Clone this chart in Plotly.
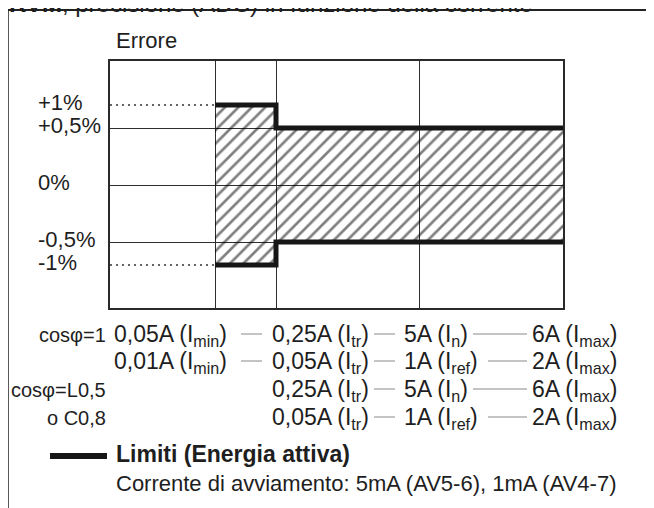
import plotly.graph_objects as go

# ---------------- data ----------------
correnti = ["I_min", "I_tr", "I_n", "I_max"]           # current thresholds along x
limite_superiore = [1.0, 0.5, 0.5]                      # upper error limit (%) per interval
limite_inferiore = [-1.0, -0.5, -0.5]                   # lower error limit (%) per interval
griglia_errore = [0.5, 0.0, -0.5]                       # horizontal grid levels (%)
tick_errore = [1.0, 0.5, 0.0, -0.5, -1.0]
etichette_errore = ["+1%", "+0,5%", "0%", "-0,5%", "-1%"]
etichette_righe = ["cosφ=1", "", "cosφ=L0,5", "o C0,8"]
righe_correnti = [
    ["0,05A (I<sub>min</sub>)", "0,25A (I<sub>tr</sub>)", "5A (I<sub>n</sub>)", "6A (I<sub>max</sub>)"],
    ["0,01A (I<sub>min</sub>)", "0,05A (I<sub>tr</sub>)", "1A (I<sub>ref</sub>)", "2A (I<sub>max</sub>)"],
    [None, "0,25A (I<sub>tr</sub>)", "5A (I<sub>n</sub>)", "6A (I<sub>max</sub>)"],
    [None, "0,05A (I<sub>tr</sub>)", "1A (I<sub>ref</sub>)", "2A (I<sub>max</sub>)"],
]
titolo = "<b>RVM</b>, precisione (ADC) in funzione della corrente"
titolo_asse = "Errore"
legenda = "<b>Limiti (Energia attiva)</b>"
nota = "Corrente di avviamento: 5mA (AV5-6), 1mA (AV4-7)"

# ---------------- schematic scales (layout) ----------------
POS_X = {"I_min": 105, "I_tr": 166, "I_n": 309, "I_max": 453}
X_RANGE = [0, 453]


def scala_y(v):
    """Schematic error axis: linear up to 0.5 %, compressed beyond."""
    a = abs(v)
    s = a if a <= 0.5 else 0.5 + (a - 0.5) * 0.4035
    return s if v >= 0 else -s


Y_RANGE = [-1.079, 1.088]

# page geometry (the page body adds an 8 px margin around the figure)
OFF = 8
PAGE_W, PAGE_H = 654, 508
W, H = PAGE_W - OFF, PAGE_H - OFF
L, R, T, B = 110, 563, 61, 308          # plot box in page pixels
FONT = "Liberation Sans, Arial, sans-serif"
INK = "#1e1e1e"
FS = 23


def px(x):
    return (x - L) / (R - L)


def py(y):
    return (B - y) / (B - T)


xs = [POS_X[c] for c in correnti]

# step outline of the tolerance band
up_x, up_y, lo_x, lo_y = [], [], [], []
for i in range(len(limite_superiore)):
    up_x += [xs[i], xs[i + 1]]
    up_y += [scala_y(limite_superiore[i])] * 2
    lo_x += [xs[i], xs[i + 1]]
    lo_y += [scala_y(limite_inferiore[i])] * 2

fig = go.Figure()

# hatched band
fig.add_trace(go.Scatter(
    x=up_x + lo_x[::-1], y=up_y + lo_y[::-1],
    mode="lines", fill="toself", line=dict(width=0),
    fillcolor="rgba(0,0,0,0)",
    fillpattern=dict(shape="/", size=9.5, solidity=0.28, fgcolor="#000000",
                     bgcolor="rgba(0,0,0,0)"),
    hoverinfo="skip", showlegend=False,
))

# dotted reference lines at the first-interval limits
for v in (limite_superiore[0], limite_inferiore[0]):
    fig.add_trace(go.Scatter(
        x=[X_RANGE[0], xs[0]], y=[scala_y(v)] * 2, mode="lines",
        line=dict(color="#333333", width=1.6, dash="2px,4px"),
        hoverinfo="skip", showlegend=False,
    ))

# limit lines
for lx, ly in ((up_x, up_y), (lo_x, lo_y)):
    fig.add_trace(go.Scatter(
        x=lx, y=ly, mode="lines",
        line=dict(color="#161616", width=5),
        hoverinfo="skip", showlegend=False,
    ))

annotations = []
# title (partly cut by the page top)
annotations.append(dict(x=px(7), y=py(4), xref="paper", yref="paper", text=titolo,
                        showarrow=False, xanchor="left", yanchor="middle",
                        font=dict(size=24, family=FONT, color=INK)))
annotations.append(dict(x=px(114), y=py(41), xref="paper", yref="paper", text=titolo_asse,
                        showarrow=False, xanchor="left", yanchor="middle",
                        font=dict(size=22, family=FONT, color=INK)))
for v, t in zip(tick_errore, etichette_errore):
    annotations.append(dict(x=px(36), y=scala_y(v), xref="paper", yref="y", text=t,
                            showarrow=False, xanchor="left", yanchor="middle", yshift=3,
                            font=dict(size=22, family=FONT, color=INK)))

ROW_Y = [335, 362, 390, 418]
COL_X = [112, 270, 402, 530]
LABEL_RIGHT = 108
for r, (lab, row) in enumerate(zip(etichette_righe, righe_correnti)):
    if lab:
        annotations.append(dict(x=px(LABEL_RIGHT), y=py(ROW_Y[r]), xref="paper", yref="paper",
                                text=lab, showarrow=False, xanchor="right", yanchor="middle",
                                font=dict(size=20, family=FONT, color=INK)))
    for c, t in enumerate(row):
        if t:
            annotations.append(dict(x=px(COL_X[c]), y=py(ROW_Y[r]), xref="paper", yref="paper",
                                    text=t, showarrow=False, xanchor="left", yanchor="middle",
                                    font=dict(size=FS, family=FONT, color=INK)))

annotations.append(dict(x=px(114), y=py(454), xref="paper", yref="paper", text=legenda,
                        showarrow=False, xanchor="left", yanchor="middle",
                        font=dict(size=FS, family=FONT, color=INK)))
annotations.append(dict(x=px(114), y=py(483), xref="paper", yref="paper", text=nota,
                        showarrow=False, xanchor="left", yanchor="middle",
                        font=dict(size=22, family=FONT, color=INK)))

shapes = []
# outer frame (top and left edges)
shapes.append(dict(type="line", xref="paper", yref="paper", x0=px(8), x1=px(700),
                   y0=py(10), y1=py(10), line=dict(color="#222222", width=2)))
shapes.append(dict(type="line", xref="paper", yref="paper", x0=px(8), x1=px(8),
                   y0=py(10), y1=py(560), line=dict(color="#222222", width=1.5)))
# legend swatch
shapes.append(dict(type="line", xref="paper", yref="paper", x0=px(50), x1=px(107),
                   y0=py(456), y1=py(456), line=dict(color="#161616", width=6)))
# grey connector dashes between current values
DASHES = [
    [(241, 262), (374, 395), (473, 527)],
    [(241, 262), (374, 395), (488, 527)],
    [(374, 395), (473, 527)],
    [(374, 395), (488, 527)],
]
for r, segs in enumerate(DASHES):
    for a, b in segs:
        shapes.append(dict(type="line", xref="paper", yref="paper", x0=px(a), x1=px(b),
                           y0=py(ROW_Y[r] - 1), y1=py(ROW_Y[r] - 1),
                           line=dict(color="#c4c4c4", width=2)))

fig.update_layout(
    width=W, height=H,
    margin=dict(l=L - OFF, r=PAGE_W - R, t=T - OFF, b=PAGE_H - B, pad=0),
    paper_bgcolor="white", plot_bgcolor="white",
    showlegend=False,
    font=dict(family=FONT, size=22, color=INK),
    xaxis=dict(range=X_RANGE, tickvals=xs[:3], showticklabels=False, ticks="",
               showgrid=True, gridcolor="#2e2e2e", gridwidth=1.4, zeroline=False,
               showline=True, linecolor="#2a2a2a", linewidth=2, mirror=True, fixedrange=True),
    yaxis=dict(range=Y_RANGE, tickvals=[scala_y(v) for v in griglia_errore],
               showticklabels=False, ticks="",
               showgrid=True, gridcolor="#2e2e2e", gridwidth=1.3, zeroline=False,
               showline=True, linecolor="#2a2a2a", linewidth=2, mirror=True, fixedrange=True),
    annotations=annotations,
    shapes=shapes,
)

fig.write_html("out.html")
